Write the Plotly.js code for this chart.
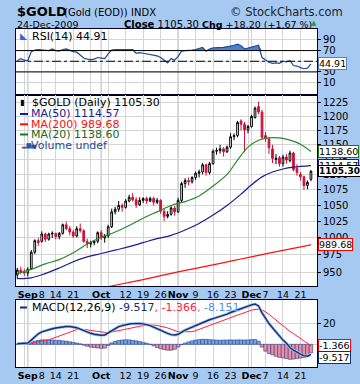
<!DOCTYPE html>
<html><head><meta charset="utf-8">
<script src="https://cdn.plot.ly/plotly-3.0.1.min.js"></script>
<style>html,body{margin:0;padding:0;background:#a6c9f2;}#chart{width:360px;height:384px;}</style>
</head><body><div id="chart"></div><script>
// ---------- DATA ----------
const dates = ['2009-08-27','2009-08-28','2009-08-31','2009-09-01','2009-09-02','2009-09-03','2009-09-04','2009-09-08','2009-09-09','2009-09-10','2009-09-11','2009-09-14','2009-09-15','2009-09-16','2009-09-17','2009-09-18','2009-09-21','2009-09-22','2009-09-23','2009-09-24','2009-09-25','2009-09-28','2009-09-29','2009-09-30','2009-10-01','2009-10-02','2009-10-05','2009-10-06','2009-10-07','2009-10-08','2009-10-09','2009-10-12','2009-10-13','2009-10-14','2009-10-15','2009-10-16','2009-10-19','2009-10-20','2009-10-21','2009-10-22','2009-10-23','2009-10-26','2009-10-27','2009-10-28','2009-10-29','2009-10-30','2009-11-02','2009-11-03','2009-11-04','2009-11-05','2009-11-06','2009-11-09','2009-11-10','2009-11-11','2009-11-12','2009-11-13','2009-11-16','2009-11-17','2009-11-18','2009-11-19','2009-11-20','2009-11-23','2009-11-24','2009-11-25','2009-11-26','2009-11-27','2009-11-30','2009-12-01','2009-12-02','2009-12-03','2009-12-04','2009-12-07','2009-12-08','2009-12-09','2009-12-10','2009-12-11','2009-12-14','2009-12-15','2009-12-16','2009-12-17','2009-12-18','2009-12-21','2009-12-22','2009-12-23','2009-12-24'];
const openP  = [946,953,950,949,955,979,996,995,1006,998,1006,1007,1002,1007,1020,1014,1009,1003,1014,1011,995,991,993,995,1008,1000,1003,1017,1040,1044,1050,1047,1057,1063,1059,1051,1058,1061,1057,1061,1055,1058,1041,1033,1036,1046,1040,1058,1085,1090,1088,1095,1102,1104,1116,1103,1118,1139,1140,1143,1138,1146,1164,1166,1192,1186,1176,1182,1198,1218,1208,1166,1160,1143,1125,1128,1118,1129,1123,1136,1110,1100,1096,1082,1092];
const highP  = [956,958,955,957,982,998,1000,1010,1008,1008,1010,1008,1009,1022,1025,1018,1012,1018,1022,1013,999,996,997,1010,1012,1006,1020,1045,1048,1057,1053,1060,1067,1070,1063,1063,1063,1064,1064,1064,1062,1060,1045,1041,1049,1049,1062,1088,1094,1095,1097,1105,1108,1119,1118,1121,1142,1145,1150,1146,1149,1170,1170,1192,1195,1190,1185,1203,1218,1227,1212,1172,1164,1150,1134,1131,1133,1134,1140,1138,1117,1104,1098,1090,1107];
const lowP   = [940,947,945,944,953,976,988,993,994,996,1000,998,998,1005,1012,1004,1000,1001,1008,993,985,986,989,992,997,993,1000,1015,1036,1040,1040,1045,1055,1056,1046,1049,1054,1052,1055,1050,1052,1037,1026,1030,1034,1034,1038,1055,1078,1082,1085,1091,1095,1100,1098,1100,1116,1133,1135,1130,1136,1143,1158,1163,1175,1137,1170,1180,1196,1204,1160,1155,1134,1119,1117,1113,1113,1118,1120,1105,1098,1090,1075,1076,1089];
const closeP = [953,950,949,954,979,996,993,1006,998,1006,1007,1002,1007,1020,1014,1009,1003,1014,1011,995,991,993,995,1008,1000,1003,1017,1040,1044,1050,1047,1057,1063,1059,1051,1058,1061,1057,1061,1055,1058,1041,1033,1036,1046,1040,1058,1085,1090,1088,1095,1102,1104,1116,1103,1118,1139,1140,1143,1138,1146,1164,1166,1189,1186,1176,1182,1200,1215,1208,1163,1162,1145,1127,1127,1118,1129,1124,1136,1108,1103,1096,1082,1087.1,1105.3];

const ma20Days = ['2009-08-27','2009-09-02','2009-09-09','2009-09-15','2009-09-21','2009-09-25','2009-10-01','2009-10-07','2009-10-13','2009-10-19','2009-10-23','2009-10-29','2009-11-04','2009-11-10','2009-11-16','2009-11-20','2009-11-25','2009-11-30','2009-12-03','2009-12-08','2009-12-11','2009-12-16','2009-12-21','2009-12-24'];
const ma20Vals = [948,954,962,968,978,991,1001,1009,1019,1030,1040,1050,1056,1065,1081,1100,1124,1146,1158,1162,1162,1158,1151,1138.6];
const ma50Days = ['2009-08-27','2009-09-02','2009-09-09','2009-09-15','2009-09-21','2009-09-25','2009-10-01','2009-10-07','2009-10-13','2009-10-19','2009-10-23','2009-10-29','2009-11-04','2009-11-10','2009-11-16','2009-11-20','2009-11-26','2009-12-01','2009-12-04','2009-12-09','2009-12-14','2009-12-17','2009-12-24'];
const ma50Vals = [941,942,948,956,965,972,977,982,987,993,999,1004,1012,1022,1035,1050,1068,1083,1096,1104,1109,1112,1114.57];
const ma200Days = ['2009-10-01','2009-10-07','2009-10-19','2009-11-02','2009-11-16','2009-11-26','2009-12-08','2009-12-24'];
const ma200Vals = [927.5,931.5,939.5,950.5,960.5,969,977.5,989.68];

const rsi = [51,55,52,51,68,71,72,71,70,70,73,70,69,72,73,70,68,67,62,56,54,53,54,57,56,55,64,71,72,72,72,73,73,72,65,66,65,64,63,62,60,57,52,47,55,52,59,69,70,70,71,72,74,76,69,73,75,75,76,76,77,78,80,82,79,73,75,77,79,80,57,52,48,46,47,46,50,49,51,42,41,38,36,37,44.91];

const macd = [0.5,0.6,0.8,1.2,4,7.5,10,11.8,13,14,14.8,15.5,16.1,16.6,17,17,16.5,15.8,14.5,13,11.8,10.5,9.6,9,8.7,8.9,10.8,13.5,15.4,16.8,17.8,18.7,19.3,19.7,19.9,19.9,19.5,18.9,17.8,16.4,14.8,13.3,11.8,10.4,9.2,8.9,9.6,11.8,13.5,15,16.5,18,19.5,21,22.4,23.4,24.5,25.4,26.3,27.5,28.8,30.3,31.5,32.8,34.2,35.5,36.8,37.6,38.4,36.5,30,24.5,19.8,15.8,11.5,7.5,4,1,-3,-5.5,-7.8,-9.3,-10.8,-11.3,-9.517];
const signal = [0.2,0.3,0.4,0.6,1.2,2,2.8,3.4,3.8,4.2,5.5,6.8,8,9.5,10.8,12,13,14,14.3,14.2,13.8,13.2,12.6,12.1,11.8,11.4,11.1,11.6,12.3,13,13.7,14.4,15.2,15.9,16.6,17.3,17.8,18.2,18.4,18.3,18,17.4,16.6,15.6,14.4,13.2,12,12,12,12,12,13,14.3,15.5,16.8,18,19.3,20.5,21.6,22.8,24.1,25.4,26.6,27.8,29,30.3,31.6,32.5,33.2,33.4,32.7,31,28.5,25.8,22.9,19.9,17,14.6,12.3,10.2,8,5.6,3.4,1,-1.366];
const hist = [0.3,0.3,0.4,0.6,1.5,3,3.8,4.2,4.2,4.1,4,3.8,3.6,3.3,3,2.4,1.8,1.2,0.4,-0.8,-1.8,-2.6,-3.2,-3.5,-3.8,-3.6,-1.2,1.4,2.8,3.6,4.1,4.3,4.2,3.8,3.3,2.6,1.8,1,0,-1.5,-3,-4.2,-5,-5.6,-5.6,-4.7,-2.6,-0.4,1.2,2.3,3.3,4,4.5,4.8,4.7,4.4,4.2,4,3.9,4,4.1,4.2,4.1,4.2,4.2,4.1,4.2,4.4,4.6,3,-2.7,-6.5,-8.7,-10,-11.4,-12.4,-13,-13.6,-14.3,-14,-13.6,-13,-12.6,-11.5,-8.151];

const gridDays = ['2009-08-31','2009-09-01','2009-09-08','2009-09-14','2009-09-21','2009-09-28','2009-10-01','2009-10-05','2009-10-12','2009-10-19','2009-10-26','2009-11-02','2009-11-09','2009-11-16','2009-11-23','2009-11-30','2009-12-01','2009-12-07','2009-12-14','2009-12-21'];
const gridText = ['','<b>Sep</b>','8','14','21','','<b>Oct</b>','','12','19','26','<b>Nov</b>','9','16','23','','<b>Dec</b>','7','14','21'];
const monthDays = ['2009-09-01','2009-10-01','2009-11-02','2009-12-01'];
const priceTicks = [950,975,1000,1025,1050,1075,1100,1125,1150,1175,1200,1225];
const rsiTicks = [10,30,50,70,90];
const rsiText = ['10','30','','70','90'];
const macdTicks = [0,20];
const macdText = ['','20'];

// ---------- LAYOUT HELPERS ----------
const W=360,H=384,L=16,R=43,T=29,B=17;
const pw=W-L-R, ph=H-T-B;
const px=x=>(x-L)/pw, py=y=>(H-B-y)/ph;
const FONT='DejaVu Sans';
const xr=[-0.372,85.73];
const dRSI=[py(95),1], dMain=[py(286),py(95)], dMACD=[0,py(300)];
const lg=Math.log10;

function xax(anchor, labels){
  return {anchor:anchor, type:'category', categoryorder:'array', categoryarray:dates,
    range:xr, tickmode:'array', tickvals:gridDays, ticktext:gridText, showticklabels:labels, tickangle:0,
    ticks:'', showgrid:true, gridcolor:'#d4d4d4', gridwidth:1, zeroline:false,
    showline:true, mirror:true, linecolor:'#000022', linewidth:1,
    tickfont:{family:FONT,size:9.5,color:'#000'}, fixedrange:true};
}
function yax(domain, extra){
  return Object.assign({domain:domain, side:'right', anchor:extra.anc, ticks:'outside', ticklen:3, tickcolor:'#000',
    showgrid:true, gridcolor:'#d4d4d4', zeroline:false, showline:true, mirror:true, linecolor:'#000022', linewidth:1,
    tickfont:{family:FONT,size:10,color:'#000'}, fixedrange:true, tickmode:'array'}, extra.o);
}

// ---------- TRACES ----------
const traces=[];
traces.push({x:dates, y:rsi.map(()=>70), xaxis:'x', yaxis:'y', type:'scatter', mode:'lines', line:{width:0,color:'rgba(0,0,0,0)'}, hoverinfo:'skip'});
traces.push({x:dates, y:rsi.map(v=>Math.max(v,70)), xaxis:'x', yaxis:'y', type:'scatter', mode:'lines', line:{width:0,color:'rgba(0,0,0,0)'}, fill:'tonexty', fillcolor:'#4f7fd0', hoverinfo:'skip'});
traces.push({x:dates, y:rsi, xaxis:'x', yaxis:'y', type:'scatter', mode:'lines', line:{width:1.2,color:'#1f4a96'}, hoverinfo:'skip'});
traces.push({x:ma200Days, y:ma200Vals, xaxis:'x2', yaxis:'y2', type:'scatter', mode:'lines', line:{width:1.2,color:'#ff1010',shape:'spline'}, hoverinfo:'skip'});
traces.push({x:ma50Days, y:ma50Vals, xaxis:'x2', yaxis:'y2', type:'scatter', mode:'lines', line:{width:1.2,color:'#1c1c8c',shape:'spline'}, hoverinfo:'skip'});
traces.push({x:ma20Days, y:ma20Vals, xaxis:'x2', yaxis:'y2', type:'scatter', mode:'lines', line:{width:1.2,color:'#2a8a2a',shape:'spline'}, hoverinfo:'skip'});
traces.push({type:'candlestick', x:dates, open:openP, high:highP, low:lowP, close:closeP, xaxis:'x2', yaxis:'y2',
  increasing:{line:{color:'#000',width:1}, fillcolor:'#ffffff'},
  decreasing:{line:{color:'#d0103a',width:1}, fillcolor:'#d0103a'}, whiskerwidth:0, hoverinfo:'skip'});
traces.push({type:'bar', x:dates, y:hist, xaxis:'x3', yaxis:'y3', marker:{color:hist.map(v=>v>=0?'#79a3e6':'#f28ca0'), line:{color:'#27408f',width:0.6}}, hoverinfo:'skip'});
traces.push({x:dates, y:signal, xaxis:'x3', yaxis:'y3', type:'scatter', mode:'lines', line:{width:1,color:'#ff2040'}, hoverinfo:'skip'});
traces.push({x:dates, y:macd, xaxis:'x3', yaxis:'y3', type:'scatter', mode:'lines', line:{width:3,color:'#a8c4ee'}, hoverinfo:'skip'});
traces.push({x:dates, y:macd, xaxis:'x3', yaxis:'y3', type:'scatter', mode:'lines', line:{width:1.4,color:'#14306e'}, hoverinfo:'skip'});

// ---------- SHAPES ----------
const shapes=[];
const mIdx = monthDays.map(d=>dates.indexOf(d));
['y domain','y2 domain','y3 domain'].forEach((yr,k)=>{
  const xr2 = ['x','x2','x3'][k];
  mIdx.forEach(i=>shapes.push({type:'line', xref:xr2, yref:yr, x0:i, x1:i, y0:0, y1:1, line:{color:'#9aa4b4',width:1}, layer:'below'}));
});
shapes.push({type:'line', xref:'paper', yref:'y', x0:0, x1:1, y0:70, y1:70, line:{color:'#000',width:1}});
shapes.push({type:'line', xref:'paper', yref:'y', x0:0, x1:1, y0:30, y1:30, line:{color:'#000',width:1}});
shapes.push({type:'line', xref:'paper', yref:'y', x0:0, x1:1, y0:50, y1:50, line:{color:'#000',width:1,dash:'dashdot'}});
[[114,'#1c1c8c'],[124.3,'#ff1010'],[134.5,'#1a7a1a']].forEach(([y,c])=>shapes.push({type:'line',xref:'paper',yref:'paper',x0:px(20),x1:px(28),y0:py(y),y1:py(y),line:{color:c,width:2}}));
shapes.push({type:'line',xref:'paper',yref:'paper',x0:px(20),x1:px(27),y0:py(307.5),y1:py(307.5),line:{color:'#14306e',width:2}});

// ---------- ANNOTATIONS ----------
const ann=[];
function t(x,y,text,size,opts){ann.push(Object.assign({xref:'paper',yref:'paper',x:px(x),y:py(y),text:text,showarrow:false,xanchor:'left',yanchor:'middle',font:{family:FONT,size:size,color:'#000'}},opts||{}));}
t(15,11.5,'<b>$GOLD</b>',13);
t(62,12.5,'(Gold (EOD))',10);
t(129,12.5,'INDX',10);
t(345,12,'© StockCharts.com',11.5,{xanchor:'right',font:{family:FONT,size:11.5,color:'#222'}});
t(15,24,'24-Dec-2009',9.5);
t(122,24,'<b>Close</b> 1105.30',10);
t(200,24,'<b>Chg</b> +18.20 (+1.67 %)',9.5);
t(309,23.5,'▲',7,{font:{family:FONT,size:7,color:'#2e9a2e'}});
t(18,36,'<span style="color:#3366cc">◣</span>',9);
t(30,36.5,'RSI(14) 44.91',11);
t(18,102.7,'▮',8);
t(30,102.7,'$GOLD (Daily) 1105.30',11);
t(29,114,'MA(50) 1114.57',11,{font:{family:FONT,size:11,color:'#1c1c8c'}});
t(29,124.3,'MA(200) 989.68',11,{font:{family:FONT,size:11,color:'#ff1010'}});
t(29,134.5,'MA(20) 1138.60',11,{font:{family:FONT,size:11,color:'#1a6a1a'}});
t(19,145,'<span style="color:#2a5aa8">▂▆▄</span>',6);
t(29,145,'Volume undef',11,{font:{family:FONT,size:11,color:'#2a4a90'}});
t(30,307.5,'MACD(12,26,9) <span style="color:#14306e">-9.517</span><span style="color:#ff2040">, -1.366</span><span style="color:#5590ee">, -8.151</span>',11);
function box(yref,yv,text,border,bold,ys){
  ann.push({xref:'paper',yref:yref,x:1,y:yv,xshift:1,yshift:ys||0,xanchor:'left',yanchor:'middle',text:bold?'<b>'+text+'</b>':text,showarrow:false,
   bgcolor:'#fff',bordercolor:border,borderwidth:1,borderpad:0,font:{family:FONT,size:bold?9:9.5,color:'#000'}});
}
box('y',rsi[rsi.length-1],'44.91','#5a7fbf');
box('y2',lg(ma200Vals[ma200Vals.length-1]),'989.68','#ff0000');
box('y2',lg(ma20Vals[ma20Vals.length-1]),'1138.60','#1a7a1a');
box('y2',lg(ma50Vals[ma50Vals.length-1]),'1114.57','#1c1c8c');
box('y2',lg(closeP[closeP.length-1]),'1105.30','#000',true);
box('y3',signal[signal.length-1],'-1.366','#ff0000');
box('y3',macd[macd.length-1],'-9.517','#14306e',false,-3);

const layout={
  width:W,height:H,margin:{l:L,r:R,t:T,b:B},paper_bgcolor:'#a6c9f2',plot_bgcolor:'#ffffff',
  showlegend:false,hovermode:false,bargap:0,
  xaxis:xax('y',false), xaxis2:xax('y2',true), xaxis3:xax('y3',true),
  yaxis:yax(dRSI,{anc:'x',o:{range:[-13.2,110.4],tickvals:rsiTicks,ticktext:rsiText}}),
  yaxis2:yax(dMain,{anc:'x2',o:{type:'log',range:[lg(930.5),lg(1239.2)],tickvals:priceTicks}}),
  yaxis3:yax(dMACD,{anc:'x3',o:{range:[-21.6,42.2],tickvals:macdTicks,ticktext:macdText}}),
  shapes:shapes, annotations:ann
};
layout.xaxis2.rangeslider={visible:false};
Plotly.newPlot('chart',traces,layout,{staticPlot:true,displayModeBar:false});
</script></body></html>
